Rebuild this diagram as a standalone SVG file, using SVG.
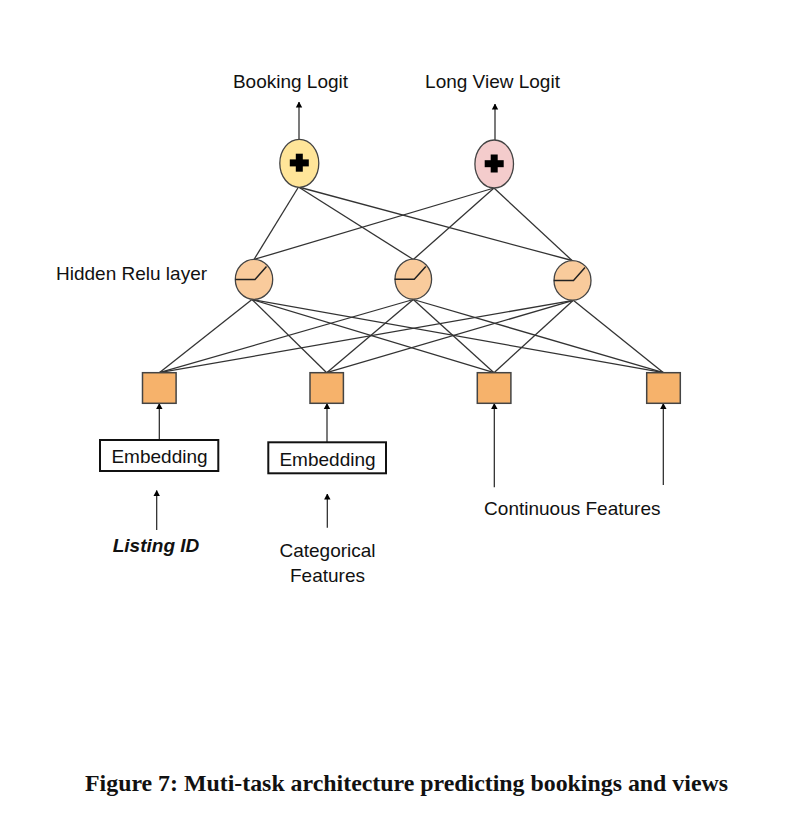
<svg xmlns="http://www.w3.org/2000/svg" width="795" height="829" viewBox="0 0 795 829">
  <defs>
    <marker id="arr" viewBox="0 0 6 8" refX="5.5" refY="4" markerWidth="6" markerHeight="8" markerUnits="userSpaceOnUse" orient="auto">
      <path d="M0,0.8 L6,4 L0,7.2 Z" fill="#000"/>
    </marker>
    <g id="plus">
      <rect x="-3.5" y="-9" width="7" height="18" fill="#000"/>
      <rect x="-9.5" y="-3.3" width="19" height="7" fill="#000"/>
    </g>
    <g id="relu">
      <path d="M-18.7,0 L1,0 L12.5,-12.8" fill="none" stroke="#222" stroke-width="1.5"/>
    </g>
  </defs>
  <style>
    .lbl { font-family: "Liberation Sans", Arial, sans-serif; font-size: 19px; fill: #111; }
    .edge { stroke: #333; stroke-width: 1.3; fill: none; }
    .arrow { stroke: #222; stroke-width: 1.2; fill: none; marker-end: url(#arr); }
    .hidden { fill: #f9cb9c; stroke: #444; stroke-width: 1.3; }
    .sq { fill: #f6b26b; stroke: #444; stroke-width: 1.5; }
    .emb { fill: #fff; stroke: #111; stroke-width: 2; }
    .cap { font-family: "Liberation Serif", "Times New Roman", serif; font-weight: bold; font-size: 24px; fill: #111; }
  </style>
  <rect width="795" height="829" fill="#fff"/>

  <g id="connectors">
    <!-- outputs to hidden -->
    <line class="edge" x1="298.5" y1="187" x2="254" y2="259.5"/>
    <line class="edge" x1="298.5" y1="187" x2="413.3" y2="259.5"/>
    <line class="edge" x1="298.5" y1="187" x2="572" y2="260.5"/>
    <line class="edge" x1="494" y1="188" x2="254" y2="259.5"/>
    <line class="edge" x1="494" y1="188" x2="413.3" y2="259.5"/>
    <line class="edge" x1="494" y1="188" x2="572" y2="260.5"/>
    <!-- hidden to inputs -->
    <line class="edge" x1="252" y1="299.5" x2="159.3" y2="372.7"/>
    <line class="edge" x1="252" y1="299.5" x2="326.7" y2="372.7"/>
    <line class="edge" x1="252" y1="299.5" x2="494" y2="372.7"/>
    <line class="edge" x1="252" y1="299.5" x2="663.5" y2="372.7"/>
    <line class="edge" x1="413.3" y1="299.5" x2="159.3" y2="372.7"/>
    <line class="edge" x1="413.3" y1="299.5" x2="326.7" y2="372.7"/>
    <line class="edge" x1="413.3" y1="299.5" x2="494" y2="372.7"/>
    <line class="edge" x1="413.3" y1="299.5" x2="663.5" y2="372.7"/>
    <line class="edge" x1="573.3" y1="300.3" x2="159.3" y2="372.7"/>
    <line class="edge" x1="573.3" y1="300.3" x2="326.7" y2="372.7"/>
    <line class="edge" x1="573.3" y1="300.3" x2="494" y2="372.7"/>
    <line class="edge" x1="573.3" y1="300.3" x2="663.5" y2="372.7"/>
    <!-- output arrows -->
    <line class="arrow" x1="299" y1="139" x2="299" y2="102"/>
    <line class="arrow" x1="495" y1="140" x2="495" y2="104"/>
    <!-- input arrows -->
    <line class="arrow" x1="159.3" y1="440" x2="159.3" y2="403.5"/>
    <line class="arrow" x1="327" y1="442.3" x2="327" y2="403.5"/>
    <line class="arrow" x1="494.3" y1="487.3" x2="494.3" y2="403.5"/>
    <line class="arrow" x1="663.3" y1="485" x2="663.3" y2="403.5"/>
    <line class="arrow" x1="156.7" y1="530" x2="156.7" y2="490.5"/>
    <line class="arrow" x1="327.3" y1="527.7" x2="327.3" y2="494"/>
  </g>

  <g id="booking-logit">
    <text class="lbl" x="290.5" y="88.3" text-anchor="middle">Booking Logit</text>
  </g>
  <g id="long-view-logit">
    <text class="lbl" x="492.5" y="88.3" text-anchor="middle">Long View Logit</text>
  </g>

  <g id="booking-sum">
    <ellipse cx="299.3" cy="163.3" rx="19.5" ry="24" fill="#ffe599" stroke="#444" stroke-width="1.3"/>
    <use href="#plus" x="299.3" y="162.7"/>
  </g>
  <g id="longview-sum">
    <ellipse cx="494.2" cy="164" rx="19.3" ry="24" fill="#f4cccc" stroke="#444" stroke-width="1.3"/>
    <use href="#plus" x="494.2" y="163.5"/>
  </g>

  <g id="hidden-label">
    <text class="lbl" x="56" y="280">Hidden Relu layer</text>
  </g>

  <g id="hidden-1">
    <ellipse class="hidden" cx="254" cy="279.4" rx="18.7" ry="20"/>
    <use href="#relu" x="254" y="279.4"/>
  </g>
  <g id="hidden-2">
    <ellipse class="hidden" cx="413.3" cy="279.2" rx="18.3" ry="20"/>
    <use href="#relu" x="413.3" y="279.2"/>
  </g>
  <g id="hidden-3">
    <ellipse class="hidden" cx="572.5" cy="280.4" rx="18.5" ry="19.8"/>
    <use href="#relu" x="572.5" y="280.4"/>
  </g>

  <g id="input-1">
    <rect class="sq" x="142.5" y="372.7" width="33.6" height="30.6"/>
  </g>
  <g id="input-2">
    <rect class="sq" x="310" y="372.7" width="33.4" height="30.6"/>
  </g>
  <g id="input-3">
    <rect class="sq" x="477.3" y="372.7" width="33.6" height="30.6"/>
  </g>
  <g id="input-4">
    <rect class="sq" x="646.7" y="372.7" width="33.6" height="30.6"/>
  </g>

  <g id="embedding-1">
    <rect class="emb" x="100" y="440" width="118.3" height="31"/>
    <text class="lbl" x="159.5" y="463.3" text-anchor="middle">Embedding</text>
  </g>
  <g id="embedding-2">
    <rect class="emb" x="268.3" y="442.3" width="117.7" height="31"/>
    <text class="lbl" x="327.5" y="465.7" text-anchor="middle">Embedding</text>
  </g>

  <g id="listing-id">
    <text class="lbl" x="156" y="551.7" text-anchor="middle" font-weight="bold" font-style="italic">Listing ID</text>
  </g>
  <g id="categorical-features">
    <text class="lbl" x="327.5" y="556.7" text-anchor="middle">Categorical</text>
    <text class="lbl" x="327.5" y="581.7" text-anchor="middle">Features</text>
  </g>
  <g id="continuous-features">
    <text class="lbl" x="572.3" y="515" text-anchor="middle">Continuous Features</text>
  </g>

  <g id="caption">
    <text class="cap" x="85" y="791" textLength="643" lengthAdjust="spacingAndGlyphs">Figure 7: Muti-task architecture predicting bookings and views</text>
  </g>
</svg>
